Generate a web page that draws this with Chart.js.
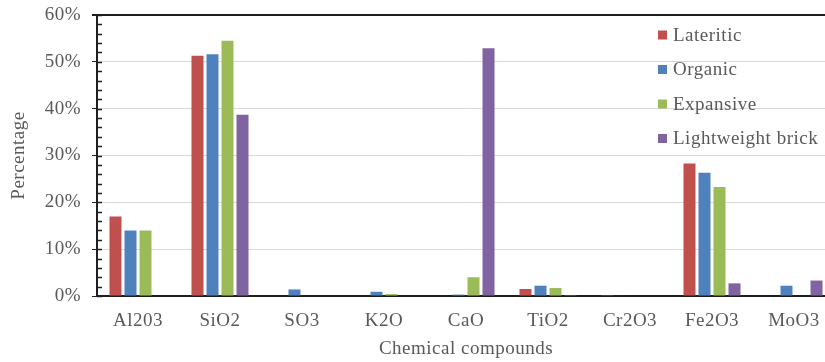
<!DOCTYPE html>
<html>
<head>
<meta charset="utf-8">
<script src="https://cdn.jsdelivr.net/npm/chart.js@4.4.0/dist/chart.umd.min.js"></script>
<style>
html,body{margin:0;padding:0;background:#fff;overflow:hidden;}
#wrap{width:840px;height:362px;}
</style>
</head>
<body>
<div id="wrap"><canvas id="c" width="840" height="362"></canvas></div>
<script>
// ---- data ----
const categories = ['Al203', 'SiO2', 'SO3', 'K2O', 'CaO', 'TiO2', 'Cr2O3', 'Fe2O3', 'MoO3'];
const seriesNames = ['Lateritic', 'Organic', 'Expansive', 'Lightweight brick'];
const lateritic   = [17.0, 51.3, 0.0, 0.0, 0.1, 1.5, 0.2, 28.3, 0.0];
const organic     = [14.0, 51.6, 1.4, 0.9, 0.3, 2.2, 0.1, 26.3, 2.2];
const expansive   = [14.0, 54.5, 0.0, 0.4, 4.0, 1.7, 0.0, 23.3, 0.0];
const lightweight = [0.0, 38.7, 0.0, 0.0, 52.9, 0.2, 0.0, 2.7, 3.3];
const yTickValues = [0, 10, 20, 30, 40, 50, 60];
const seriesColors = ['#C0504D', '#4F81BD', '#9BBB59', '#8064A2'];

const FAMILY = '"Liberation Serif", "Times New Roman", serif';
const FSIZE = 19;
const TEXT = '#595959';
const DARK = '#1f1f1f';
const SPACING = '0.5px';

const spacingPlugin = {
  id: 'spacing',
  beforeLayout(chart) { chart.ctx.letterSpacing = SPACING; },
  beforeDraw(chart) { chart.ctx.letterSpacing = SPACING; }
};

const minorTicks = {
  id: 'minorTicks',
  afterDraw(chart) {
    const s = chart.scales.y;
    const ctx = chart.ctx;
    ctx.save();
    ctx.strokeStyle = DARK;
    ctx.lineWidth = 1.5;
    for (let v = s.min; v <= s.max; v += 2) {
      const y = Math.round(s.getPixelForValue(v)) + 0.5;
      ctx.beginPath();
      ctx.moveTo(s.right, y);
      ctx.lineTo(s.right + 5, y);
      ctx.stroke();
    }
    ctx.restore();
  }
};

const inlineLegend = {
  id: 'inlineLegend',
  afterDraw(chart) {
    const ctx = chart.ctx;
    const area = chart.chartArea;
    ctx.save();
    ctx.letterSpacing = SPACING;
    ctx.font = FSIZE + 'px ' + FAMILY;
    ctx.textBaseline = 'middle';
    ctx.textAlign = 'left';
    const x = area.right - 177;
    chart.data.datasets.forEach((ds, i) => {
      const y = area.top + 20 + i * 34.5;
      ctx.fillStyle = ds.backgroundColor;
      ctx.fillRect(x, y - 4.5, 9, 9);
      ctx.fillStyle = TEXT;
      ctx.fillText(ds.label, x + 15, y + 1);
    });
    ctx.restore();
  }
};

const seriesData = [lateritic, organic, expansive, lightweight];
const font = { family: FAMILY, size: FSIZE };

new Chart(document.getElementById('c'), {
  type: 'bar',
  data: {
    labels: categories,
    datasets: seriesNames.map((name, i) => ({
      label: name,
      data: seriesData[i],
      backgroundColor: seriesColors[i],
      borderWidth: 0,
      barPercentage: 0.8,
      categoryPercentage: 0.732
    }))
  },
  options: {
    responsive: false,
    animation: false,
    devicePixelRatio: 1,
    layout: { padding: { top: 15, right: 5, left: 0, bottom: 0 } },
    plugins: {
      legend: { display: false },
      tooltip: { enabled: false }
    },
    scales: {
      x: {
        grid: { display: false, drawTicks: false },
        border: { display: true, color: DARK, width: 2 },
        ticks: { font, color: TEXT, padding: 14 },
        title: { display: true, text: 'Chemical compounds', font, color: TEXT, padding: { top: 0, bottom: 2 } },
        afterFit(s) { s.height = 66; }
      },
      y: {
        min: 0,
        max: 60,
        afterBuildTicks(s) { s.ticks = yTickValues.map(v => ({ value: v })); },
        ticks: { callback: v => v + '%', font, color: TEXT, padding: 11 },
        grid: {
          color: c => (c.tick && c.tick.value === 60) ? DARK : (c.tick && c.tick.value === 0 ? 'rgba(0,0,0,0)' : '#d9d9d9'),
          lineWidth: c => (c.tick && c.tick.value === 60) ? 2 : 1,
          tickColor: DARK,
          tickLength: 5,
          drawTicks: true
        },
        border: { display: true, color: DARK, width: 2 },
        title: { display: true, text: 'Percentage', font, color: TEXT, padding: { top: 8, bottom: 0 } },
        afterFit(s) { s.width = 97; s.paddingTop = 0; s.paddingBottom = 0; }
      }
    }
  },
  plugins: [spacingPlugin, minorTicks, inlineLegend]
});
</script>
</body>
</html>
